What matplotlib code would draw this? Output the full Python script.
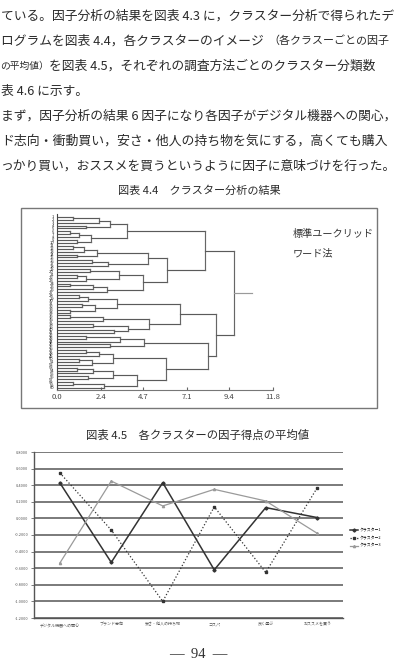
import matplotlib.pyplot as plt
from matplotlib.patches import Rectangle

W, H = 401, 666
plt.rcParams['font.family'] = ['Noto Sans CJK JP', 'DejaVu Sans']

# ---- line chart data (図表 4.5) ----
categories = ['デジタル機器への関心', 'ブランド志向', '安さ・他人の持ち物', 'コスパ', '良く選ぶ', 'おススメを買う']
cluster1 = [0.43, -0.53, 0.43, -0.62, 0.13, 0.01]
cluster2 = [0.55, -0.14, -1.00, 0.14, -0.65, 0.37]
cluster3 = [-0.54, 0.45, 0.15, 0.35, 0.21, -0.18]
series_names = ['クラスター1', 'クラスター2', 'クラスター3']
score_ticks = [0.8, 0.6, 0.4, 0.2, 0.0, -0.2, -0.4, -0.6, -0.8, -1.0, -1.2]

# ---- dendrogram data (図表 4.4): (merge height, left, right), leaves are case numbers ----
U1a = (2.9, (2.3, (0.9, 1, 2), 3), (1.6, 4, 5))
U1b = (1.85, (1.2, (0.7, 6, 7), 8), (1.1, 9, 10))
U2a = (5.0, (2.2, (1.5, (0.9, 11, 12), 13), (1.1, 14, 15)), (2.8, (1.9, 16, 17), 18))
U2b = (4.73, (3.4, (1.8, 19, 20), (1.6, (1.1, 21, 22), 23)), (2.75, (2.0, (0.7, 24, 25), 26), 27))
L1a = (3.31, (1.7, (1.2, 28, 29), 30), (2.1, (1.4, 31, 32), (0.7, 33, 34)))
L1b = (5.05, (2.5, (0.7, 35, 36), 37), (3.9, (2.0, 38, 39), (3.1, 40, 41)))
L2a = (4.76, (3.45, (1.6, 42, 43), 44), (2.9, 45, 46))
L2b = (5.96, (3.05, (2.3, (1.6, 47, 48), 49), (1.9, (1.2, 50, 51), 52)),
       (4.36, (3.05, (2.0, (1.1, 53, 54), 55), (1.7, 56, 57)), (2.6, (0.9, 58, 59), 60)))
tree = (9.65, (8.09, (3.85, U1a, U1b), (6.04, U2a, U2b)),
        (8.69, (6.73, L1a, L1b), (8.27, L2a, L2b)))
root_stub_end = 10.65
dist_ticks = [0.0, 2.4, 4.7, 7.1, 9.4, 11.8]

fig = plt.figure(figsize=(W / 100, H / 100), dpi=100)


def px_axes(left, top, right, bottom):
    return fig.add_axes([left / W, 1 - bottom / H, (right - left) / W, (bottom - top) / H])


def ftext(x, y, s, size, **kw):
    fig.text(x / W, 1 - y / H, s, fontsize=size, va='center', color='#2a2a2a', **kw)


# ---- body text ----
ftext(1, 16, 'ている。因子分析の結果を図表 4.3 に，クラスター分析で得られたデ', 9.2)
ftext(1, 41, 'ログラムを図表 4.4，各クラスターのイメージ', 9.2)
ftext(268, 41, '（各クラスーごとの因子', 7.9)
ftext(0, 66, 'の平均値）', 7.0)
ftext(49, 66, 'を図表 4.5，それぞれの調査方法ごとのクラスター分類数', 9.2)
ftext(1, 91, '表 4.6 に示す。', 9.2)
ftext(1, 116, 'まず，因子分析の結果 6 因子になり各因子がデジタル機器への関心，', 9.2)
ftext(1, 141, 'ド志向・衝動買い，安さ・他人の持ち物を気にする，高くても購入', 9.3)
ftext(1, 166, 'っかり買い，おススメを買うというように因子に意味づけを行った。', 9.2)

# ---- 図表 4.4 ----
fig.text(199 / W, 1 - 191 / H, '図表 4.4　クラスター分析の結果', fontsize=8, ha='center', va='center',
         color='#2a2a2a')
fig.add_artist(Rectangle((21 / W, 1 - 408 / H), 356 / W, 200 / H, transform=fig.transFigure,
                         fill=False, ec='#777777', lw=1.0))

ax1 = px_axes(56.7, 214, 273, 390)
leaf_labels = []


def draw(node):
    if not isinstance(node, tuple):
        leaf_labels.append(str(node))
        return len(leaf_labels) - 1, 0.0
    h, a, b = node
    ya, ha = draw(a)
    yb, hb = draw(b)
    ax1.plot([ha, h], [ya, ya], color='#5a5a5a', lw=0.85)
    ax1.plot([hb, h], [yb, yb], color='#5a5a5a', lw=0.85)
    ax1.plot([h, h], [ya, yb], color='#666666', lw=0.85)
    return (ya + yb) / 2, h


root_y, root_h = draw(tree)
ax1.plot([root_h, root_stub_end], [root_y, root_y], color='#9a9a9a', lw=0.85)
ax1.set_xlim(0, 11.8)
ax1.set_ylim(len(leaf_labels) - 0.3, -1.0)
ax1.set_xticks(dist_ticks)
ax1.set_xticklabels([f'{t:.1f}' for t in dist_ticks], fontsize=5.5, color='#444444')
ax1.set_yticks(range(len(leaf_labels)))
ax1.set_yticklabels(leaf_labels, fontsize=3.0, color='#222222')
ax1.tick_params(axis='y', length=0, pad=2)
ax1.tick_params(axis='x', length=2, direction='in', pad=2, color='#666666')
for s in ['top', 'right']:
    ax1.spines[s].set_visible(False)
ax1.spines['left'].set_color('#444444')
ax1.spines['bottom'].set_color('#777777')
ax1.spines['bottom'].set_linewidth(0.8)
ax1.patch.set_alpha(0)

fig.text(293 / W, 1 - 234 / H, '標準ユークリッド', fontsize=7.3, va='center', color='#333333')
fig.text(293 / W, 1 - 253 / H, 'ワード法', fontsize=7.3, va='center', color='#333333')

# ---- 図表 4.5 ----
fig.text(198 / W, 1 - 435 / H, '図表 4.5　各クラスターの因子得点の平均値', fontsize=8.2, ha='center',
         va='center', color='#2a2a2a')

ax2 = px_axes(34, 452, 343, 618)
x = list(range(len(categories)))
ax2.plot(x, cluster1, color='#333333', lw=1.1, marker='D', ms=1.6, label=series_names[0])
ax2.plot(x, cluster2, color='#333333', lw=0.9, ls=':', marker='s', ms=1.6, label=series_names[1])
ax2.plot(x, cluster3, color='#9a9a9a', lw=0.9, marker='^', ms=1.6, label=series_names[2])
ax2.set_xlim(-0.5, len(categories) - 0.5)
ax2.set_ylim(-1.2, 0.8)
ax2.set_yticks(score_ticks)
ax2.set_yticklabels([f'{t:.4f}' for t in score_ticks], fontsize=2.8, color='#555555')
ax2.set_xticks(x)
ax2.set_xticklabels(categories, fontsize=2.9, color='#555555')
ax2.tick_params(axis='x', length=0, pad=3)
ax2.tick_params(axis='y', length=2, width=0.6, color='#666666', pad=2)
ax2.grid(axis='y', color='#707070', lw=1.3)
ax2.set_axisbelow(True)
for s in ['top', 'right']:
    ax2.spines[s].set_visible(False)
for s in ['left', 'bottom']:
    ax2.spines[s].set_color('#555555')
    ax2.spines[s].set_linewidth(1.0)

fig.legend(loc='center left', bbox_to_anchor=(348 / W, 1 - 538 / H), fontsize=2.8, frameon=False,
           handlelength=2.2, labelspacing=1.0, borderaxespad=0, handletextpad=0.4)

# ---- page number ----
fig.text(198 / W, 1 - 654 / H, '—  94  —', fontsize=10.5, ha='center', va='center',
         family='Liberation Serif', color='#333333')

fig.savefig('out.png', dpi=100)
